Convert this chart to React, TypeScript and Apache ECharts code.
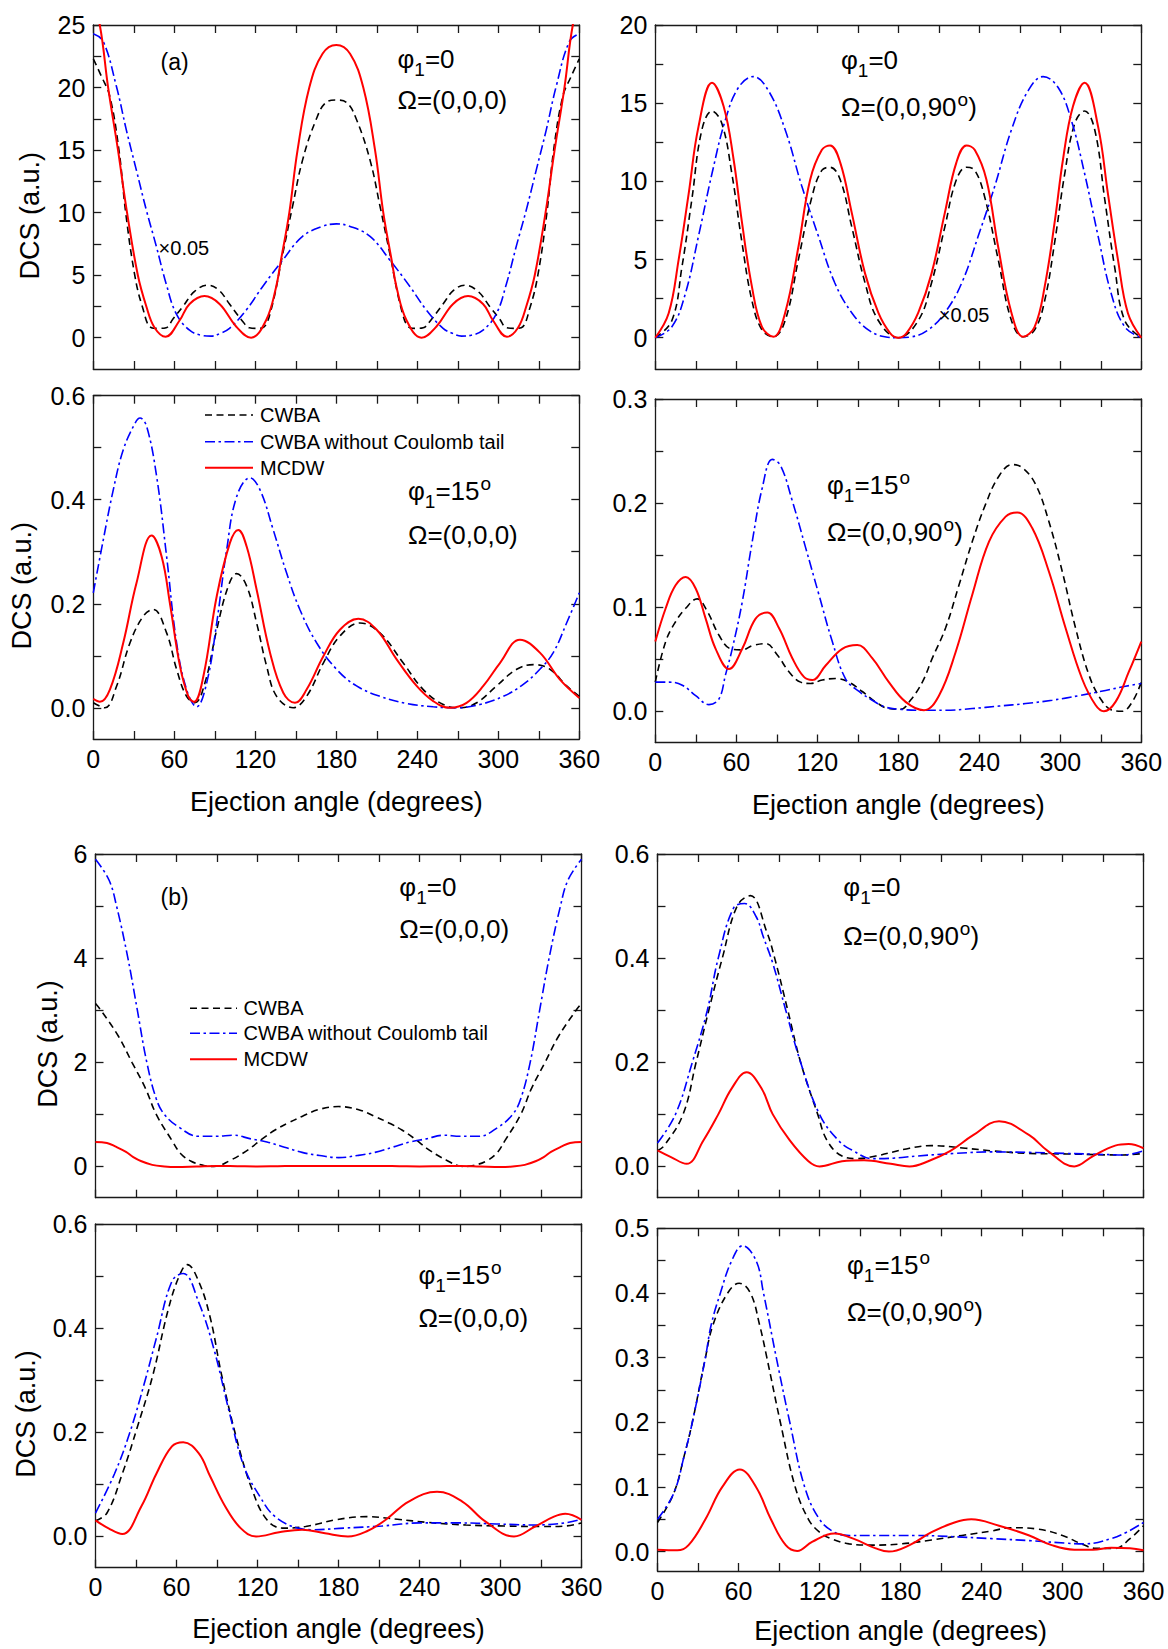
import React, { useEffect, useRef } from "react";
import * as echarts from "echarts";

const FONT = '"Liberation Sans", Arial, Helvetica, sans-serif';
const AX = "#1a1a1a";
const BLACK = "#000000";
const BLUE = "#0000ff";
const RED = "#ff0000";

// ---------- tick values ----------
const X_LABELS = [0, 60, 120, 180, 240, 300, 360];
const X_TICKS = [0, 30, 60, 90, 120, 150, 180, 210, 240, 270, 300, 330, 360];
const P1_Y_LABELS = [0, 5, 10, 15, 20, 25];
const P1_Y_TICKS = [0, 2.5, 5, 7.5, 10, 12.5, 15, 17.5, 20, 22.5, 25];
const P2_Y_LABELS = [0, 5, 10, 15, 20];
const P2_Y_TICKS = [0, 2.5, 5, 7.5, 10, 12.5, 15, 17.5, 20];
const P3_Y_LABELS = [0, 0.2, 0.4, 0.6];
const P3_Y_TICKS = [0, 0.1, 0.2, 0.3, 0.4, 0.5, 0.6];
const P4_Y_LABELS = [0, 0.1, 0.2, 0.3];
const P4_Y_TICKS = [0, 0.05, 0.1, 0.15, 0.2, 0.25, 0.3];
const P5_Y_LABELS = [0, 2, 4, 6];
const P5_Y_TICKS = [0, 1, 2, 3, 4, 5, 6];
const P8_Y_LABELS = [0, 0.1, 0.2, 0.3, 0.4, 0.5];
const P8_Y_TICKS = [0, 0.05, 0.1, 0.15, 0.2, 0.25, 0.3, 0.35, 0.4, 0.45, 0.5];

// ---------- panel 1: (a) phi1=0, Omega=(0,0,0) ----------
const p1RedX = [0, 4.8, 11, 18.3, 25, 33, 39.3, 45.4, 53.6, 64, 71.3, 82.4, 93.5, 105.8, 116.9, 128, 135.3, 139, 145.2, 151.3, 160, 169.8, 180, 190.2, 200, 208.7, 214.8, 221, 224.7, 232, 243.1, 254.2, 266.5, 277.6, 288.7, 296, 306.4, 314.6, 320.7, 327, 335, 341.7, 349, 355.2, 360];
const p1RedY = [26.5, 25, 20, 15, 10, 5, 2.5, 0.8, 0.08, 1.4, 2.7, 3.33, 2.7, 0.9, 0, 1.4, 4, 6.2, 10, 15, 20, 22.7, 23.4, 22.7, 20, 15, 10, 6.2, 4, 1.4, 0, 0.9, 2.7, 3.33, 2.7, 1.4, 0.08, 0.8, 2.5, 5, 10, 15, 20, 25, 26.5];
const p1BlackX = [0, 6, 12.2, 19, 24, 30.7, 36.3, 43, 48.5, 54, 59, 66.4, 75, 84.8, 93, 100.9, 110.7, 115.6, 120.5, 125.5, 131.6, 140.3, 147.6, 155, 164.9, 172.3, 180, 187.7, 195.1, 205, 212.4, 219.7, 228.4, 234.5, 239.5, 244.4, 249.3, 259.1, 267, 275.2, 285, 293.6, 301, 306, 311.5, 317, 323.7, 329.3, 336, 341, 347.8, 354, 360];
const p1BlackY = [22.3, 20.9, 19.3, 15, 10, 5, 2.5, 0.8, 0.75, 0.8, 1.5, 2.5, 3.7, 4.2, 3.8, 2.7, 1.3, 0.8, 0.75, 0.8, 2.2, 6.7, 10.5, 14.2, 17.4, 18.8, 19.0, 18.8, 17.4, 14.2, 10.5, 6.7, 2.2, 0.8, 0.75, 0.8, 1.3, 2.7, 3.8, 4.2, 3.7, 2.5, 1.5, 0.8, 0.75, 0.8, 2.5, 5, 10, 15, 19.3, 20.9, 22.3];
const p1BlueX = [0, 7.3, 17.1, 24.5, 31.9, 39.3, 46.7, 54, 61.5, 71.3, 80, 87.3, 94, 100.9, 113.2, 125.5, 140.3, 155, 169.8, 180, 190.2, 205, 219.7, 234.5, 246.8, 259.1, 266, 272.7, 280, 288.7, 298.5, 306, 313.3, 320.7, 328.1, 335.5, 342.9, 352.7, 360];
const p1BlueY = [24.3, 23.7, 20.1, 16.6, 13.4, 10.2, 7.3, 4.3, 1.9, 0.6, 0.2, 0.13, 0.35, 0.75, 2.2, 4.1, 6.2, 8.1, 8.9, 9.1, 8.9, 8.1, 6.2, 4.1, 2.2, 0.75, 0.35, 0.13, 0.2, 0.6, 1.9, 4.3, 7.3, 10.2, 13.4, 16.6, 20.1, 23.7, 24.3];

// ---------- panel 2: (a) phi1=0, Omega=(0,0,90) ----------
const p2RedX = [0, 9.9, 17.3, 24.7, 32, 42, 50.6, 58, 64, 71.5, 79, 87.5, 96.2, 106, 114.7, 123.3, 129.5, 137, 145.5, 155.4, 165.2, 173.9, 180, 186.1, 194.8, 204.6, 214.5, 223, 230.5, 236.7, 245.3, 254, 263.8, 272.5, 281, 288.5, 296, 302, 309.4, 318, 328, 335.3, 342.7, 350.1, 360];
const p2RedY = [0, 1.56, 5, 9.2, 13.5, 16.3, 14.8, 11.4, 7.5, 3.3, 0.7, 0.06, 1.6, 5.8, 10.1, 12, 12.3, 11.2, 8, 4.1, 1.6, 0.3, 0, 0.3, 1.6, 4.1, 8, 11.2, 12.3, 12, 10.1, 5.8, 1.6, 0.06, 0.7, 3.3, 7.5, 11.4, 14.8, 16.3, 13.5, 9.2, 5, 1.56, 0];
const p2BlackX = [0, 12.3, 19.7, 27, 34.5, 42, 49.3, 56.7, 64, 71.5, 79, 87.5, 96.2, 106, 116, 123.3, 129.5, 137, 145.5, 155.4, 165.2, 180, 194.8, 204.6, 214.5, 223, 230.5, 236.7, 244, 254, 263.8, 272.5, 281, 288.5, 296, 303.3, 310.7, 318, 325.5, 333, 340.3, 347.7, 360];
const p2BlackY = [0, 1.1, 4.5, 8.8, 13.3, 14.5, 13.7, 10.5, 6.2, 2.4, 0.5, 0.06, 1.1, 5, 9, 10.7, 10.9, 10.1, 7.1, 3.5, 1.1, 0, 1.1, 3.5, 7.1, 10.1, 10.9, 10.7, 9, 5, 1.1, 0.06, 0.5, 2.4, 6.2, 10.5, 13.7, 14.5, 13.3, 8.8, 4.5, 1.1, 0];
const p2BlueX = [0, 12.3, 22.2, 32, 42, 51.8, 61.6, 72.7, 83.8, 96.2, 108.5, 120.8, 133, 145.5, 157.8, 170, 180, 190, 202.2, 214.5, 227, 239.2, 251.5, 263.8, 276.2, 287.3, 298.4, 308.2, 318, 328, 337.8, 347.7, 360];
const p2BlueY = [0, 0.7, 2.8, 6.5, 10.5, 13.9, 16, 16.7, 15.8, 13.3, 9.7, 6.5, 3.5, 1.6, 0.5, 0.06, 0, 0.06, 0.5, 1.6, 3.5, 6.5, 9.7, 13.3, 15.8, 16.7, 16, 13.9, 10.5, 6.5, 2.8, 0.7, 0];

// ---------- panel 3: (a) phi1=15, Omega=(0,0,0) ----------
const p3RedX = [0, 4.9, 12.3, 22.2, 32, 43.2, 50.6, 56.8, 64.2, 70.4, 74.6, 81.5, 91.4, 101.2, 107.4, 113.6, 121, 130.9, 140.7, 149.4, 158, 170.4, 182.7, 196.3, 209.9, 224.7, 239.5, 251.8, 264.2, 276.5, 288.9, 301.2, 316, 330.8, 345.7, 360];
const p3RedY = [0.017, 0.0115, 0.035, 0.125, 0.24, 0.331, 0.291, 0.2, 0.08, 0.022, 0.0115, 0.06, 0.214, 0.317, 0.342, 0.31, 0.227, 0.106, 0.029, 0.0096, 0.035, 0.099, 0.15, 0.171, 0.15, 0.093, 0.042, 0.0128, 0, 0.0096, 0.042, 0.086, 0.131, 0.106, 0.054, 0.019];
const p3BlackX = [0, 8.6, 17.3, 27.2, 37, 44.4, 54.3, 61.7, 69.1, 75.3, 82.7, 91.4, 100, 106.2, 113.6, 121, 128.4, 135.8, 148.1, 158, 170.4, 182.7, 197.5, 212.3, 229.6, 244.4, 259.2, 271.6, 284, 298.7, 313.6, 326, 338.3, 350.6, 360];
const p3BlackY = [0.0096, 0, 0.042, 0.125, 0.176, 0.189, 0.144, 0.074, 0.022, 0.01, 0.048, 0.15, 0.234, 0.258, 0.234, 0.163, 0.08, 0.022, 0, 0.022, 0.086, 0.138, 0.163, 0.144, 0.086, 0.035, 0.0064, 0, 0.0096, 0.042, 0.074, 0.083, 0.074, 0.042, 0.022];
const p3BlueX = [0, 7.4, 14.8, 22.2, 30.9, 34.6, 39.5, 46.9, 54.3, 61.7, 69.1, 76.5, 84, 91.4, 98.8, 106.2, 116, 123.5, 133.3, 143.2, 153, 165.4, 180.2, 195, 212.3, 232, 251.8, 269.1, 286.4, 303.7, 318.5, 330.8, 340.7, 350.6, 360];
const p3BlueY = [0.221, 0.323, 0.419, 0.496, 0.547, 0.557, 0.541, 0.445, 0.291, 0.125, 0.035, 0.002, 0.048, 0.163, 0.304, 0.406, 0.442, 0.419, 0.342, 0.259, 0.189, 0.125, 0.074, 0.042, 0.022, 0.0083, 0.002, 0, 0.0064, 0.022, 0.045, 0.074, 0.106, 0.163, 0.221];

// ---------- panel 4: (a) phi1=15, Omega=(0,0,90) ----------
const p4RedX = [0, 7.7, 15, 22.5, 29.9, 37.3, 44.7, 54.6, 64.4, 74.3, 83, 91.6, 101.5, 110.1, 116.3, 126.2, 138.5, 149.6, 160.7, 173, 185.4, 199, 210.1, 222.5, 234.8, 247.2, 259.5, 268.1, 279.2, 291.6, 303.9, 316.2, 326.1, 332.3, 340.9, 350.8, 360];
const p4RedY = [0.067, 0.099, 0.121, 0.129, 0.118, 0.089, 0.06, 0.0405, 0.06, 0.089, 0.0948, 0.08, 0.051, 0.033, 0.03, 0.044, 0.06, 0.0636, 0.051, 0.028, 0.009, 0.001, 0.015, 0.057, 0.112, 0.163, 0.187, 0.191, 0.176, 0.134, 0.08, 0.031, 0.006, 0, 0.009, 0.038, 0.067];
const p4BlackX = [0, 7.7, 15, 22.5, 31, 38.5, 47.2, 55.8, 64.4, 71.8, 81.7, 90.4, 99, 107.6, 115, 123.7, 133.6, 143.4, 153.3, 163.2, 173, 181.7, 189, 197.8, 205.2, 215, 224.9, 234.8, 244.7, 254.6, 264.4, 271.8, 281.7, 291.6, 301.5, 311.3, 321.2, 329.8, 338.4, 345.8, 353.3, 360];
const p4BlackY = [0.028, 0.067, 0.086, 0.099, 0.108, 0.096, 0.073, 0.06, 0.059, 0.063, 0.065, 0.054, 0.038, 0.028, 0.0267, 0.03, 0.0315, 0.028, 0.019, 0.009, 0.0026, 0.002, 0.0106, 0.028, 0.051, 0.08, 0.121, 0.163, 0.199, 0.226, 0.237, 0.234, 0.218, 0.182, 0.134, 0.08, 0.035, 0.012, 0.001, 0, 0.009, 0.028];
const p4BlueX = [0, 10.1, 20, 29.9, 39.7, 47.2, 52, 57, 64.4, 71.8, 79.3, 86.7, 92.8, 101.5, 111.4, 121.2, 131.1, 141, 150.9, 160.7, 170.6, 180.5, 195.3, 215, 234.8, 254.6, 274.3, 294, 313.8, 333.5, 348.3, 360];
const p4BlueY = [0.028, 0.028, 0.025, 0.015, 0.0064, 0.012, 0.035, 0.06, 0.105, 0.163, 0.215, 0.242, 0.236, 0.202, 0.157, 0.112, 0.067, 0.031, 0.019, 0.0106, 0.004, 0.002, 0.001, 0.001, 0.0026, 0.005, 0.0074, 0.0106, 0.015, 0.02, 0.024, 0.0267];

// ---------- panel 5: (b) phi1=0, Omega=(0,0,0) ----------
const p5RedX = [0, 8.5, 15, 22.6, 28, 34, 42, 51, 60, 75, 90, 105, 120, 135, 150, 165, 180, 195, 210, 225, 240, 255, 270, 285, 300, 309, 318, 326, 332, 337.4, 345, 351.5, 360];
const p5RedY = [0.47, 0.45, 0.38, 0.28, 0.18, 0.1, 0.03, 0.0, -0.01, 0.0, 0.01, 0.005, 0.0, 0.005, 0.01, 0.01, 0.01, 0.01, 0.01, 0.005, 0.0, 0.005, 0.01, 0.0, -0.01, 0.0, 0.03, 0.1, 0.18, 0.28, 0.38, 0.45, 0.47];
const p5BlackX = [0, 4, 17, 27, 37, 45, 56.6, 63, 70.8, 80, 87.7, 100, 113, 123, 133, 143, 153, 165, 180, 195, 207, 217, 227, 237, 247, 260, 272.3, 280, 289.2, 297, 303.4, 315, 323, 333, 343, 356, 360];
const p5BlackY = [3.13, 3.0, 2.5, 2.0, 1.5, 1.0, 0.5, 0.25, 0.1, 0.02, 0, 0.12, 0.32, 0.52, 0.7, 0.84, 0.96, 1.09, 1.15, 1.09, 0.96, 0.84, 0.7, 0.52, 0.32, 0.12, 0, 0.02, 0.1, 0.25, 0.5, 1.0, 1.5, 2.0, 2.5, 3.0, 3.13];
const p5BlueX = [0, 10, 15.6, 24, 31, 38, 45, 51, 62, 76, 90, 102, 115, 127, 140, 153, 166, 180, 194, 207, 220, 233, 245, 258, 270, 284, 298, 309, 315, 322, 329, 336, 344.4, 350, 360];
const p5BlueY = [5.9, 5.5, 5.0, 4.0, 3.0, 2.0, 1.3, 1.0, 0.75, 0.58, 0.58, 0.6, 0.53, 0.47, 0.37, 0.27, 0.21, 0.17, 0.21, 0.27, 0.37, 0.47, 0.53, 0.6, 0.58, 0.58, 0.75, 1.0, 1.3, 2.0, 3.0, 4.0, 5.0, 5.5, 5.9];

// ---------- panel 6: (b) phi1=0, Omega=(0,0,90) ----------
const p6RedX = [0, 10, 21.6, 34, 45, 55, 66, 77, 85.4, 98, 111.8, 120, 136.7, 153, 172.8, 186.7, 200.5, 217, 233.8, 253, 275.4, 289, 308.7, 322.6, 339, 349, 360];
const p6RedY = [0.031, 0.018, 0.005, 0.05, 0.1, 0.15, 0.181, 0.15, 0.1, 0.05, 0.01, 0.0, 0.01, 0.012, 0.005, 0.0, 0.01, 0.03, 0.06, 0.087, 0.06, 0.03, 0.0, 0.02, 0.04, 0.043, 0.035];
const p6BlackX = [0, 5, 18.9, 28.6, 38, 48, 59, 68.8, 81, 86.8, 96.5, 106, 118.7, 125.6, 136.7, 148, 161.7, 186.7, 203, 228, 247.7, 275, 303, 344.7, 360];
const p6BlackY = [0.03, 0.04, 0.1, 0.2, 0.3, 0.4, 0.5, 0.52, 0.45, 0.4, 0.3, 0.2, 0.1, 0.05, 0.02, 0.015, 0.02, 0.035, 0.04, 0.035, 0.03, 0.025, 0.024, 0.022, 0.025];
const p6BlueX = [0, 13.3, 25.8, 36.9, 45, 56.3, 64.6, 73, 78.5, 85.4, 95, 106, 120, 134, 145, 159, 175, 192, 220, 247.7, 275, 303, 331, 345, 360];
const p6BlueY = [0.045, 0.1, 0.2, 0.3, 0.4, 0.496, 0.505, 0.48, 0.44, 0.39, 0.3, 0.2, 0.1, 0.05, 0.03, 0.015, 0.016, 0.02, 0.025, 0.028, 0.027, 0.025, 0.023, 0.022, 0.03];

// ---------- panel 7: (b) phi1=15, Omega=(0,0,0) ----------
const p7RedX = [0, 10, 19.8, 34, 45, 56.6, 65, 76.4, 85, 96, 107.5, 119, 136, 153, 170, 187, 201, 215, 232, 253, 271.7, 288.7, 310, 325.5, 339.6, 348, 360];
const p7RedY = [0.031, 0.015, 0.0045, 0.058, 0.12, 0.173, 0.181, 0.16, 0.115, 0.058, 0.016, 0.0, 0.008, 0.013, 0.006, 0, 0.01, 0.032, 0.067, 0.086, 0.067, 0.029, 0, 0.019, 0.038, 0.0435, 0.032];
const p7BlackX = [0, 8.5, 19.8, 31, 42.5, 53.8, 62, 68, 76.4, 85, 93.4, 104.7, 116, 127, 138.7, 155.6, 178, 201, 223.6, 246, 274.5, 303, 331, 348, 360];
const p7BlackY = [0.03, 0.045, 0.12, 0.21, 0.31, 0.435, 0.5, 0.522, 0.49, 0.42, 0.31, 0.186, 0.09, 0.032, 0.016, 0.019, 0.032, 0.038, 0.033, 0.027, 0.022, 0.02, 0.019, 0.02, 0.026];
const p7BlueX = [0, 14, 25.5, 36.8, 45, 56.6, 65, 76.4, 87.7, 99, 110, 121.7, 133, 150, 161, 184, 212, 240.5, 269, 297, 325, 348, 360];
const p7BlueY = [0.045, 0.12, 0.2, 0.3, 0.38, 0.49, 0.505, 0.45, 0.36, 0.24, 0.134, 0.077, 0.038, 0.016, 0.013, 0.016, 0.02, 0.026, 0.026, 0.024, 0.022, 0.026, 0.033];

// ---------- panel 8: (b) phi1=15, Omega=(0,0,90) ----------
const p8RedX = [0, 14.7, 23, 35.5, 48, 61, 73, 84, 95, 103.5, 114.5, 131, 145, 161.7, 171.4, 186.7, 203, 220, 232.4, 253, 275.4, 292, 308.7, 322.6, 336, 350, 360];
const p8RedY = [0.003, 0.002, 0.01, 0.05, 0.1, 0.127, 0.1, 0.05, 0.01, 0.001, 0.015, 0.028, 0.02, 0.005, 0, 0.01, 0.03, 0.045, 0.05, 0.04, 0.025, 0.01, 0.003, 0.003, 0.006, 0.005, 0.002];
const p8BlackX = [0, 12, 20, 25.8, 35.5, 41, 52, 60.5, 68.8, 75.7, 81, 91, 102, 111.8, 120, 128.4, 142, 159, 181, 203, 225.5, 247.7, 261.5, 281, 300, 314, 325, 339, 350, 360];
const p8BlackY = [0.045, 0.09, 0.15, 0.2, 0.3, 0.35, 0.4, 0.415, 0.4, 0.35, 0.3, 0.2, 0.1, 0.05, 0.03, 0.02, 0.012, 0.01, 0.012, 0.018, 0.025, 0.032, 0.037, 0.035, 0.025, 0.012, 0.005, 0.005, 0.02, 0.04];
const p8BlueX = [0, 12, 20, 25.8, 35.5, 39.7, 46.6, 55, 63, 73, 78.5, 88, 98, 109, 120, 131, 142, 164.5, 192, 220, 247.7, 275.4, 303, 317, 336, 347.5, 360];
const p8BlueY = [0.05, 0.09, 0.15, 0.2, 0.3, 0.35, 0.4, 0.45, 0.473, 0.45, 0.4, 0.3, 0.2, 0.1, 0.05, 0.03, 0.025, 0.025, 0.025, 0.023, 0.02, 0.017, 0.013, 0.012, 0.02, 0.03, 0.045];

const SERIES_NAMES = ["CWBA", "CWBA without Coulomb tail", "MCDW"];

type Panel = {
  rect: [number, number, number, number];
  yMin: number;
  yMax: number;
  yLabels: number[];
  yTicks: number[];
  dec: number;
  showX: boolean;
  black: [number[], number[]];
  blue: [number[], number[]];
  red: [number[], number[]];
};

const panels: Panel[] = [
  { rect: [93.3, 25, 486, 344], yMin: -2.5, yMax: 25, yLabels: P1_Y_LABELS, yTicks: P1_Y_TICKS, dec: 0, showX: false, black: [p1BlackX, p1BlackY], blue: [p1BlueX, p1BlueY], red: [p1RedX, p1RedY] },
  { rect: [655.3, 25, 486, 344], yMin: -2, yMax: 20, yLabels: P2_Y_LABELS, yTicks: P2_Y_TICKS, dec: 0, showX: false, black: [p2BlackX, p2BlackY], blue: [p2BlueX, p2BlueY], red: [p2RedX, p2RedY] },
  { rect: [93.3, 395.7, 486, 343.3], yMin: -0.06, yMax: 0.6, yLabels: P3_Y_LABELS, yTicks: P3_Y_TICKS, dec: 1, showX: true, black: [p3BlackX, p3BlackY], blue: [p3BlueX, p3BlueY], red: [p3RedX, p3RedY] },
  { rect: [655.3, 399, 486, 343.5], yMin: -0.03, yMax: 0.3, yLabels: P4_Y_LABELS, yTicks: P4_Y_TICKS, dec: 1, showX: true, black: [p4BlackX, p4BlackY], blue: [p4BlueX, p4BlueY], red: [p4RedX, p4RedY] },
  { rect: [95.5, 854, 486, 343.7], yMin: -0.6, yMax: 6, yLabels: P5_Y_LABELS, yTicks: P5_Y_TICKS, dec: 0, showX: false, black: [p5BlackX, p5BlackY], blue: [p5BlueX, p5BlueY], red: [p5RedX, p5RedY] },
  { rect: [657.5, 854, 486, 343.7], yMin: -0.06, yMax: 0.6, yLabels: P3_Y_LABELS, yTicks: P3_Y_TICKS, dec: 1, showX: false, black: [p6BlackX, p6BlackY], blue: [p6BlueX, p6BlueY], red: [p6RedX, p6RedY] },
  { rect: [95.5, 1224, 486, 343.7], yMin: -0.06, yMax: 0.6, yLabels: P3_Y_LABELS, yTicks: P3_Y_TICKS, dec: 1, showX: true, black: [p7BlackX, p7BlackY], blue: [p7BlueX, p7BlueY], red: [p7RedX, p7RedY] },
  { rect: [657.5, 1228.3, 486, 342.7], yMin: -0.03, yMax: 0.5, yLabels: P8_Y_LABELS, yTicks: P8_Y_TICKS, dec: 1, showX: true, black: [p8BlackX, p8BlackY], blue: [p8BlueX, p8BlueY], red: [p8RedX, p8RedY] },
];

const BLACK_DASH = [7, 4.5];
const BLUE_DASH = [10, 3.5, 2.5, 3.5];

function pairs(xs: number[], ys: number[]) {
  return xs.map((x, i) => [x, ys[i]]);
}

const lineStyleAx = { color: AX, width: 1.3 };

function makeX(i: number, pos: "bottom" | "top", showLabel: boolean) {
  return {
    type: "value",
    gridIndex: i,
    min: 0,
    max: 360,
    position: pos,
    axisLine: { show: true, onZero: false, lineStyle: lineStyleAx },
    axisTick: { show: true, inside: true, length: 8, customValues: X_TICKS, lineStyle: lineStyleAx },
    minorTick: { show: false },
    axisLabel: {
      show: showLabel,
      customValues: X_LABELS,
      fontSize: 25,
      color: "#000",
      fontFamily: FONT,
      margin: 7,
      showMinLabel: true,
      showMaxLabel: true,
    },
    splitLine: { show: false },
  };
}

function makeY(i: number, p: Panel, pos: "left" | "right") {
  return {
    type: "value",
    gridIndex: i,
    min: p.yMin,
    max: p.yMax,
    position: pos,
    axisLine: { show: true, onZero: false, lineStyle: lineStyleAx },
    axisTick: { show: true, inside: true, length: 8, customValues: p.yTicks, lineStyle: lineStyleAx },
    minorTick: { show: false },
    axisLabel: {
      show: pos === "left",
      customValues: p.yLabels,
      formatter: (v: number) => v.toFixed(p.dec),
      fontSize: 25,
      color: "#000",
      fontFamily: FONT,
      margin: 8,
      showMinLabel: true,
      showMaxLabel: true,
    },
    splitLine: { show: false },
  };
}

function txt(x: number, y: number, text: string, size: number, align = "left", rotation = 0) {
  return {
    type: "text",
    x,
    y,
    rotation,
    z: 100,
    style: {
      text,
      fontSize: size,
      fontFamily: FONT,
      fill: "#000",
      align,
      textAlign: align,
      verticalAlign: "middle",
      textVerticalAlign: "middle",
    },
  };
}

const RICH = {
  m: { fontSize: 26, fontFamily: FONT, lineHeight: 40, fill: "#000" },
  s: { fontSize: 19, fontFamily: FONT, lineHeight: 19, verticalAlign: "bottom", fill: "#000" },
  u: { fontSize: 19, fontFamily: FONT, verticalAlign: "top", padding: [3, 0, 0, 1], fill: "#000" },
};

function richTxt(x: number, y: number, text: string) {
  return {
    type: "text",
    x,
    y,
    z: 100,
    style: {
      text,
      rich: RICH,
      fontSize: 26,
      fontFamily: FONT,
      fill: "#000",
      align: "left",
      textAlign: "left",
      verticalAlign: "middle",
      textVerticalAlign: "middle",
    },
  };
}

function phi(x: number, y: number, val: string, deg: boolean) {
  return richTxt(x, y, `{m|φ}{s|1}{m|=${val}}` + (deg ? "{u|o}" : ""));
}

function omega(x: number, y: number, deg: boolean) {
  return richTxt(x, y, deg ? "{m|Ω=(0,0,90}{u|o}{m|)}" : "{m|Ω=(0,0,0)}");
}

function legend(x1: number, x2: number, tx: number, ys: number[]) {
  const els: any[] = [];
  const styles = [
    { stroke: BLACK, lineWidth: 1.6, lineDash: BLACK_DASH },
    { stroke: BLUE, lineWidth: 1.6, lineDash: BLUE_DASH },
    { stroke: RED, lineWidth: 2, lineDash: null },
  ];
  ys.forEach((y, k) => {
    els.push({ type: "line", z: 100, shape: { x1, y1: y, x2, y2: y }, style: styles[k] });
    els.push(txt(tx, y, SERIES_NAMES[k], 20));
  });
  return els;
}

const XTITLE = "Ejection angle (degrees)";
const YTITLE = "DCS (a.u.)";

export default function App() {
  const ref = useRef<HTMLDivElement>(null);
  useEffect(() => {
    document.body.style.margin = "0";
    const chart = echarts.init(ref.current!, undefined, { renderer: "svg", width: 1168, height: 1649 });

    const grid = panels.map((p) => ({
      left: p.rect[0],
      top: p.rect[1],
      width: p.rect[2],
      height: p.rect[3],
      containLabel: false,
      outerBoundsMode: "none",
    }));
    const xAxis: any[] = [];
    const yAxis: any[] = [];
    const series: any[] = [];
    panels.forEach((p, i) => {
      xAxis.push(makeX(i, "bottom", p.showX));
      xAxis.push(makeX(i, "top", false));
      yAxis.push(makeY(i, p, "left"));
      yAxis.push(makeY(i, p, "right"));
      const defs: [string, [number[], number[]], any][] = [
        [SERIES_NAMES[0], p.black, { color: BLACK, width: 1.6, type: BLACK_DASH }],
        [SERIES_NAMES[1], p.blue, { color: BLUE, width: 1.6, type: BLUE_DASH }],
        [SERIES_NAMES[2], p.red, { color: RED, width: 2, type: "solid" }],
      ];
      defs.forEach(([name, d, ls]) => {
        series.push({
          name,
          type: "line",
          xAxisIndex: 2 * i,
          yAxisIndex: 2 * i,
          data: pairs(d[0], d[1]),
          showSymbol: false,
          symbol: "none",
          smooth: 0.4,
          clip: true,
          silent: true,
          lineStyle: ls,
          emphasis: { disabled: true },
        });
      });
    });

    const graphic: any[] = [
      // panel 1
      txt(160.5, 61.7, "(a)", 23),
      phi(397.5, 58.5, "0", false),
      omega(397.5, 100, false),
      txt(158.6, 248.3, "×0.05", 20),
      txt(29.6, 215.8, YTITLE, 27, "center", Math.PI / 2),
      // panel 2
      phi(841, 60, "0", false),
      omega(841, 106.5, true),
      txt(938.8, 315, "×0.05", 20),
      // panel 3
      ...legend(205, 253, 260, [415, 441.7, 467.7]),
      phi(408, 490.8, "15", true),
      omega(408, 535, false),
      txt(22, 585.7, YTITLE, 27, "center", Math.PI / 2),
      txt(336.3, 802, XTITLE, 27, "center"),
      // panel 4
      phi(827, 485, "15", true),
      omega(827, 532.3, true),
      txt(898.3, 805, XTITLE, 27, "center"),
      // panel 5
      txt(160.5, 897.3, "(b)", 23),
      phi(399.3, 886.7, "0", false),
      omega(399.3, 929.3, false),
      ...legend(190, 237, 243.5, [1008.3, 1033.3, 1059.3]),
      txt(47.8, 1044, YTITLE, 27, "center", Math.PI / 2),
      // panel 6
      phi(843.3, 886.7, "0", false),
      omega(843.3, 935.7, true),
      // panel 7
      phi(418.4, 1275, "15", true),
      omega(418.4, 1318.3, false),
      txt(25.8, 1414, YTITLE, 27, "center", Math.PI / 2),
      txt(338.5, 1628.5, XTITLE, 27, "center"),
      // panel 8
      phi(847, 1265, "15", true),
      omega(847, 1311.7, true),
      txt(900.6, 1630.5, XTITLE, 27, "center"),
    ];

    chart.setOption({
      animation: false,
      backgroundColor: "#ffffff",
      textStyle: { fontFamily: FONT },
      grid,
      xAxis,
      yAxis,
      series,
      graphic,
    });
    return () => chart.dispose();
  }, []);
  return <div ref={ref} style={{ width: 1168, height: 1649, background: "#fff" }} />;
}
